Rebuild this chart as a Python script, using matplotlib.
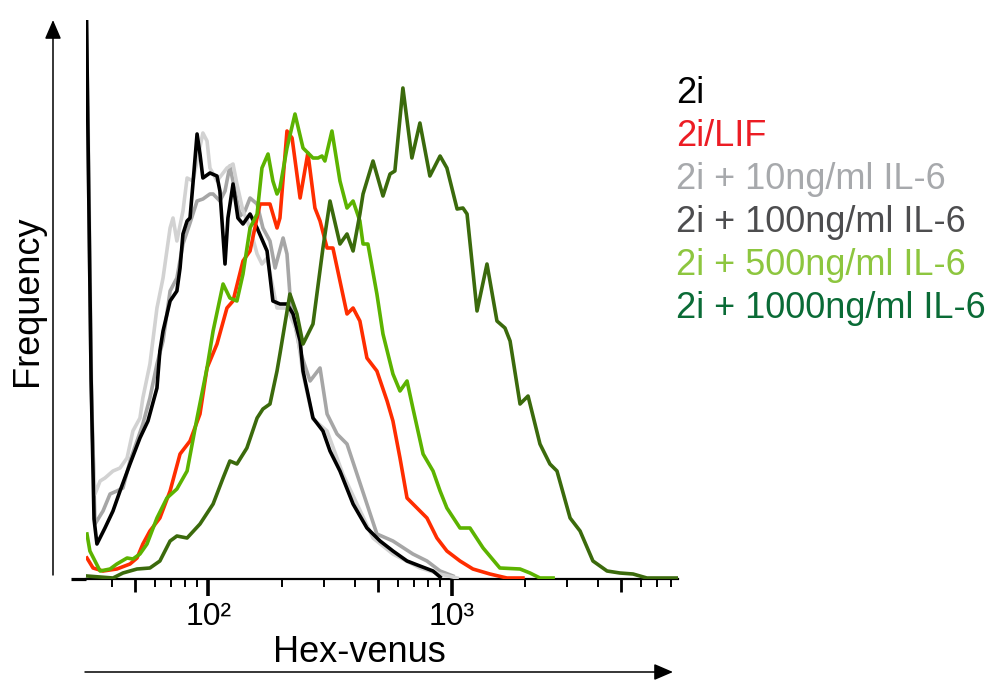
import numpy as np
import matplotlib
matplotlib.use("Agg")
from matplotlib import pyplot as plt
from matplotlib.ticker import FixedLocator, NullLocator

plt.rcParams["font.family"] = ["Liberation Sans", "DejaVu Sans"]

# histogram traces: log10(Hex-venus) and frequency (counts)
black_logx = [1.496, 1.517, 1.529, 1.541, 1.574, 1.607, 1.636, 1.677, 1.718, 1.751,
              1.788, 1.800, 1.813, 1.842, 1.870, 1.883, 1.895, 1.912, 1.924, 1.936,
              1.953, 1.965, 1.977, 2.006, 2.035, 2.047, 2.068, 2.080, 2.101, 2.121,
              2.142, 2.171, 2.200, 2.241, 2.265, 2.294, 2.323, 2.348, 2.377, 2.389,
              2.430, 2.471, 2.500, 2.541, 2.595, 2.652, 2.706, 2.759, 2.817, 2.870,
              2.924, 2.953]
black_y = [600, 200, 60, 35, 51, 68, 88, 115, 141, 158,
           191, 228, 248, 278, 288, 311, 345, 358, 361, 395,
           445, 425, 401, 406, 403, 388, 315, 361, 395, 361,
           355, 365, 351, 328, 278, 275, 275, 265, 238, 208,
           161, 148, 128, 108, 75, 51, 38, 28, 18, 13,
           8, 2]

il6_10_logx = [1.504, 1.521, 1.533, 1.554, 1.574, 1.607, 1.636, 1.665, 1.689, 1.718,
               1.730, 1.759, 1.788, 1.813, 1.842, 1.854, 1.870, 1.895, 1.912, 1.936,
               1.953, 1.977, 1.994, 2.006, 2.035, 2.076, 2.101, 2.117, 2.142, 2.171,
               2.200, 2.220, 2.241, 2.282, 2.323, 2.364, 2.389, 2.430, 2.488, 2.553,
               2.611, 2.677, 2.759, 2.870, 2.953, 3.023]
il6_10_y = [471, 150, 85, 98, 101, 108, 111, 121, 148, 161,
            181, 215, 271, 301, 351, 361, 338, 368, 401, 398,
            418, 446, 438, 411, 398, 411, 415, 395, 368, 351,
            325, 315, 321, 271, 271, 248, 205, 160, 148, 105,
            75, 41, 25, 11, 5, 1]

il6_100_logx = [1.496, 1.517, 1.533, 1.566, 1.595, 1.623, 1.648, 1.677, 1.706, 1.730,
                1.759, 1.788, 1.813, 1.842, 1.870, 1.895, 1.924, 1.953, 1.977, 2.006,
                2.019, 2.047, 2.068, 2.088, 2.109, 2.130, 2.150, 2.171, 2.200, 2.224,
                2.253, 2.274, 2.307, 2.323, 2.335, 2.348, 2.377, 2.418, 2.459, 2.488,
                2.529, 2.570, 2.611, 2.652, 2.693, 2.759, 2.841, 2.899, 2.953, 3.006]
il6_100_y = [600, 200, 55, 68, 85, 88, 91, 118, 138, 155,
             181, 215, 238, 288, 301, 335, 356, 378, 380, 385,
             385, 378, 388, 413, 388, 363, 368, 381, 375, 351,
             338, 311, 341, 325, 285, 265, 228, 198, 211, 165,
             145, 135, 105, 75, 45, 38, 25, 18, 8, 3]

lif_logx = [1.500, 1.525, 1.566, 1.623, 1.677, 1.706, 1.730, 1.759, 1.800, 1.842,
            1.883, 1.924, 1.965, 1.994, 2.035, 2.076, 2.101, 2.142, 2.171, 2.191,
            2.212, 2.253, 2.282, 2.294, 2.323, 2.344, 2.377, 2.409, 2.438, 2.459,
            2.488, 2.512, 2.541, 2.570, 2.595, 2.623, 2.652, 2.693, 2.735, 2.759,
            2.788, 2.817, 2.858, 2.899, 2.940, 2.981, 3.035, 3.088, 3.158, 3.228, 3.294]
lif_y = [21, 11, 8, 10, 15, 21, 35, 48, 61, 88,
         125, 138, 165, 211, 235, 271, 278, 318, 328, 351,
         375, 375, 351, 361, 448, 441, 381, 426, 371, 358,
         331, 331, 298, 265, 271, 258, 221, 208, 178, 158,
         121, 81, 71, 61, 41, 28, 18, 10, 5, 1, 1]

il6_500_logx = [1.500, 1.512, 1.554, 1.595, 1.623, 1.665, 1.689, 1.718, 1.747, 1.788,
                1.829, 1.870, 1.912, 1.953, 1.994, 2.019, 2.060, 2.088, 2.117, 2.142,
                2.171, 2.200, 2.220, 2.245, 2.265, 2.282, 2.294, 2.323, 2.356, 2.389,
                2.430, 2.451, 2.467, 2.479, 2.508, 2.541, 2.570, 2.595, 2.623, 2.636,
                2.656, 2.693, 2.718, 2.759, 2.788, 2.817, 2.841, 2.883, 2.924, 2.953,
                2.981, 3.035, 3.076, 3.130, 3.199, 3.282, 3.323, 3.364, 3.418]
il6_500_y = [45, 28, 8, 10, 15, 21, 20, 25, 35, 61,
             81, 90, 108, 161, 211, 248, 295, 281, 278, 305,
             351, 365, 411, 425, 398, 385, 391, 431, 465, 431,
             421, 421, 423, 418, 448, 398, 371, 378, 358, 335,
             335, 285, 245, 205, 188, 198, 171, 125, 108, 88,
             71, 51, 51, 31, 11, 10, 6, 1, 1]

il6_1000_logx = [1.500, 1.607, 1.648, 1.706, 1.759, 1.800, 1.842, 1.870, 1.912, 1.965,
                 2.019, 2.060, 2.088, 2.117, 2.158, 2.200, 2.224, 2.253, 2.282, 2.294,
                 2.335, 2.364, 2.389, 2.430, 2.471, 2.500, 2.541, 2.570, 2.595, 2.623,
                 2.636, 2.677, 2.718, 2.747, 2.767, 2.800, 2.837, 2.870, 2.911, 2.953,
                 2.981, 3.023, 3.047, 3.064, 3.105, 3.146, 3.187, 3.220, 3.241, 3.282,
                 3.315, 3.364, 3.405, 3.434, 3.488, 3.529, 3.582, 3.640, 3.693, 3.747,
                 3.804, 3.887, 3.932]
il6_1000_y = [3, 1, 6, 10, 11, 18, 38, 43, 41, 55,
              75, 101, 118, 115, 131, 161, 170, 175, 208, 225,
              285, 265, 235, 255, 331, 378, 335, 345, 328, 365,
              385, 418, 383, 405, 408, 491, 421, 456, 403, 423,
              411, 370, 371, 365, 268, 315, 258, 251, 238, 175,
              183, 135, 115, 108, 61, 48, 18, 8, 6, 5,
              1, 1, 1]

labels = ["2i", "2i/LIF", "2i + 10ng/ml IL-6", "2i + 100ng/ml IL-6",
          "2i + 500ng/ml IL-6", "2i + 1000ng/ml IL-6"]
label_colors = ["#000000", "#ec1c24", "#a7a9ac", "#4d4d4f", "#8dc63f", "#0a6b36"]

# traces in drawing order
traces = [
    (il6_100_logx, il6_100_y, "#a6a6a6"),
    (il6_10_logx, il6_10_y, "#d2d2d2"),
    (black_logx, black_y, "#000000"),
    (lif_logx, lif_y, "#ff2d00"),
    (il6_500_logx, il6_500_y, "#5cb300"),
    (il6_1000_logx, il6_1000_y, "#3b6a0c"),
]

fig = plt.figure(figsize=(9.93, 6.81), dpi=100)
ax = fig.add_axes([86 / 993, 1 - 579 / 681, 592 / 993, 559 / 681])

for lx, y, c in traces:
    ax.plot(10 ** np.array(lx), y, color=c, lw=2.6, zorder=3)

ax.set_xscale("log")
ax.set_xlim(10 ** 1.496, 10 ** 3.932)
ax.set_ylim(0, 559)

for s in ["top", "right", "left"]:
    ax.spines[s].set_visible(False)
ax.spines["bottom"].set_linewidth(1.6)

ax.xaxis.set_major_locator(FixedLocator([100, 1000]))
ax.set_xticklabels(["10²", "10³"], fontsize=23)
ax.xaxis.set_minor_locator(FixedLocator([40, 60, 70, 80, 90, 200, 300, 400, 600, 700,
                                         800, 900, 2000, 3000, 4000, 6000, 7000, 8000]))
ax.tick_params(axis="x", which="major", direction="out", length=12.5, width=2.6, pad=4)
ax.tick_params(axis="x", which="minor", direction="out", length=5.5, width=1.4)
ax.set_yticks([0])
ax.set_yticklabels([""])
ax.tick_params(axis="y", direction="out", length=11, width=2.3)

# medium ticks at 5 x decade
ax2 = ax.twiny()
ax2.set_xscale("log")
ax2.set_xlim(ax.get_xlim())
ax2.xaxis.set_ticks_position("bottom")
ax2.set_xticks([50, 500, 5000])
ax2.xaxis.set_minor_locator(NullLocator())
ax2.tick_params(axis="x", which="major", direction="out", length=9.5, width=2.0,
                labelbottom=False, labeltop=False)
for s in ax2.spines.values():
    s.set_visible(False)

# axis arrows
arrow = dict(arrowstyle="-|>,head_length=0.58,head_width=0.25", lw=1.1, color="black",
             mutation_scale=20, shrinkA=0, shrinkB=0)
ax.annotate("", xy=(53 / 993, 1 - 20 / 681), xytext=(53 / 993, 1 - 575 / 681),
            xycoords="figure fraction", textcoords="figure fraction", arrowprops=arrow)
ax.annotate("", xy=(673 / 993, 1 - 672 / 681), xytext=(85 / 993, 1 - 672 / 681),
            xycoords="figure fraction", textcoords="figure fraction", arrowprops=arrow)

fig.text(28 / 993, 1 - 301 / 681, "Frequency", rotation=90, ha="center", va="center",
         fontsize=26)
fig.text(359 / 993, 1 - 662 / 681, "Hex-venus", ha="center", va="baseline", fontsize=26)

for i, (lab, col) in enumerate(zip(labels, label_colors)):
    fig.text(676 / 993, 1 - (103 + 43 * i) / 681, lab, color=col, fontsize=26,
             ha="left", va="baseline")

fig.savefig("out.png", dpi=100)
